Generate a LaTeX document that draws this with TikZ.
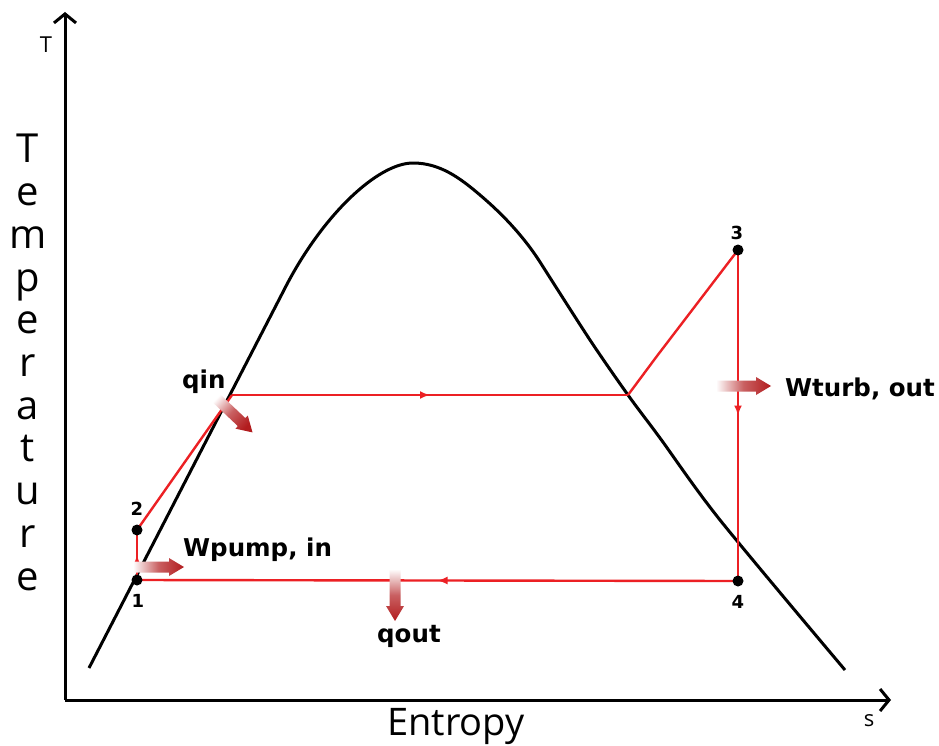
\documentclass[tikz,border=0pt]{standalone}
\usepackage{fontspec}
\setmainfont{Open Sans}
\newfontfamily\lblfont{DejaVu Sans}
\usetikzlibrary{arrows.meta,decorations.markings}
\definecolor{cycred}{RGB}{236,32,36}
\definecolor{arrred}{RGB}{178,28,30}
\newcommand{\gradarr}[5]{%
  \begin{scope}[shift={(#1,#2)}, rotate=#3]
    \shade[left color=white, right color=arrred, middle color=arrred!70!white, shading angle=#5]
      (0,-5.5) -- ({#4-15},-5.5) -- ({#4-15},-9) -- (#4,0) -- ({#4-15},9) -- ({#4-15},5.5) -- (0,5.5) -- cycle;
  \end{scope}}
\begin{document}
\begin{tikzpicture}[x=1pt,y=-1pt,
  axisline/.style={draw=black, line width=3pt, -{Straight Barb[length=9pt,width=22pt]}},
  dome/.style={draw=black, line width=3pt, line join=round},
  cyc/.style={draw=cycred, line width=2.4pt},
  midarrow/.style={postaction={decorate}, decoration={markings, mark=at position 0.5 with {\arrow{Latex[length=10pt,width=8pt]}}}},
  ptdot/.style={circle, fill=black, inner sep=0pt, minimum size=11pt},
  numlbl/.style={font=\lblfont\bfseries\fontsize{18}{18}\selectfont, inner sep=0pt},
  biglbl/.style={font=\lblfont\bfseries\fontsize{24.5}{24.5}\selectfont, anchor=base west, inner sep=0pt},
  axlbl/.style={font=\fontsize{40}{40}\selectfont, anchor=base, inner sep=0pt}]
\useasboundingbox (0,0) rectangle (939,746);
\fill[white] (0,0) rectangle (939,746);

% axes
\coordinate (O) at (65,700);
\coordinate (Ytip) at (65,12);
\coordinate (Xtip) at (891,700);
\draw[axisline] (O) -- (Ytip);
\draw[axisline] (O) -- (Xtip);
\node[font=\fontsize{22}{22}\selectfont, inner sep=0pt] (Tl) at (46,45) {T};
\node[font=\fontsize{22}{22}\selectfont, inner sep=0pt] (sl) at (869,721) {s};
\node[axlbl, font=\fontsize{38}{38}\selectfont] (ent) at (456,735) {Entropy};
\foreach \ch [count=\k from 0] in {T,e,m,p,e,r,a,t,u,r,e}
  \node[axlbl] (tl\k) at (28,{163+42.7*\k}) {\ch};

% saturation dome
\draw[dome] (89,668) -- (284,290) .. controls (322,215) and (378,163) .. (413,163)
  .. controls (440,163) and (460,178) .. (480,195)
  .. controls (500,212) and (522,234) .. (540,262)
  plot[smooth, tension=0.5] coordinates {(540,262) (590,340) (628,395) (660,438) (720,520) (845,670)};

% cycle
\coordinate (c1) at (137,580);
\coordinate (c2) at (137,530);
\coordinate (pa) at (232,395);
\coordinate (pb) at (628,395);
\coordinate (pk) at (657,356);
\coordinate (c3) at (738,250);
\coordinate (c4) at (738,581);
\draw[cyc, midarrow] (c1) -- (c2);
\draw[cyc] (c2) -- (pa);
\draw[cyc, midarrow] (pa) -- (pb);
\draw[cyc] (pb) -- (pk) -- (c3);
\draw[cyc, midarrow] (c3) -- (c4);
\draw[cyc, midarrow] (c4) -- (c1);
\node[ptdot] (p1) at (c1) {};
\node[ptdot] (p2) at (c2) {};
\node[ptdot] (p3) at (c3) {};
\node[ptdot] (p4) at (c4) {};
\node[numlbl] (n1) at (138,601) {1};
\node[numlbl] (n2) at (137,509) {2};
\node[numlbl] (n3) at (737,233) {3};
\node[numlbl] (n4) at (738,602) {4};

% heat / work arrows
\gradarr{214}{396}{-43.4}{53}{46.6}
\gradarr{133}{567}{0}{51}{90}
\gradarr{716}{386}{0}{55}{90}
\gradarr{395}{569}{-90}{52}{0}

\node[biglbl] (qin) at (182,388) {qin};
\node[biglbl] (wp) at (183,556) {Wpump, in};
\node[biglbl] (wt) at (785,396) {Wturb, out};
\node[biglbl] (qo) at (377,642) {qout};
\end{tikzpicture}
\end{document}
